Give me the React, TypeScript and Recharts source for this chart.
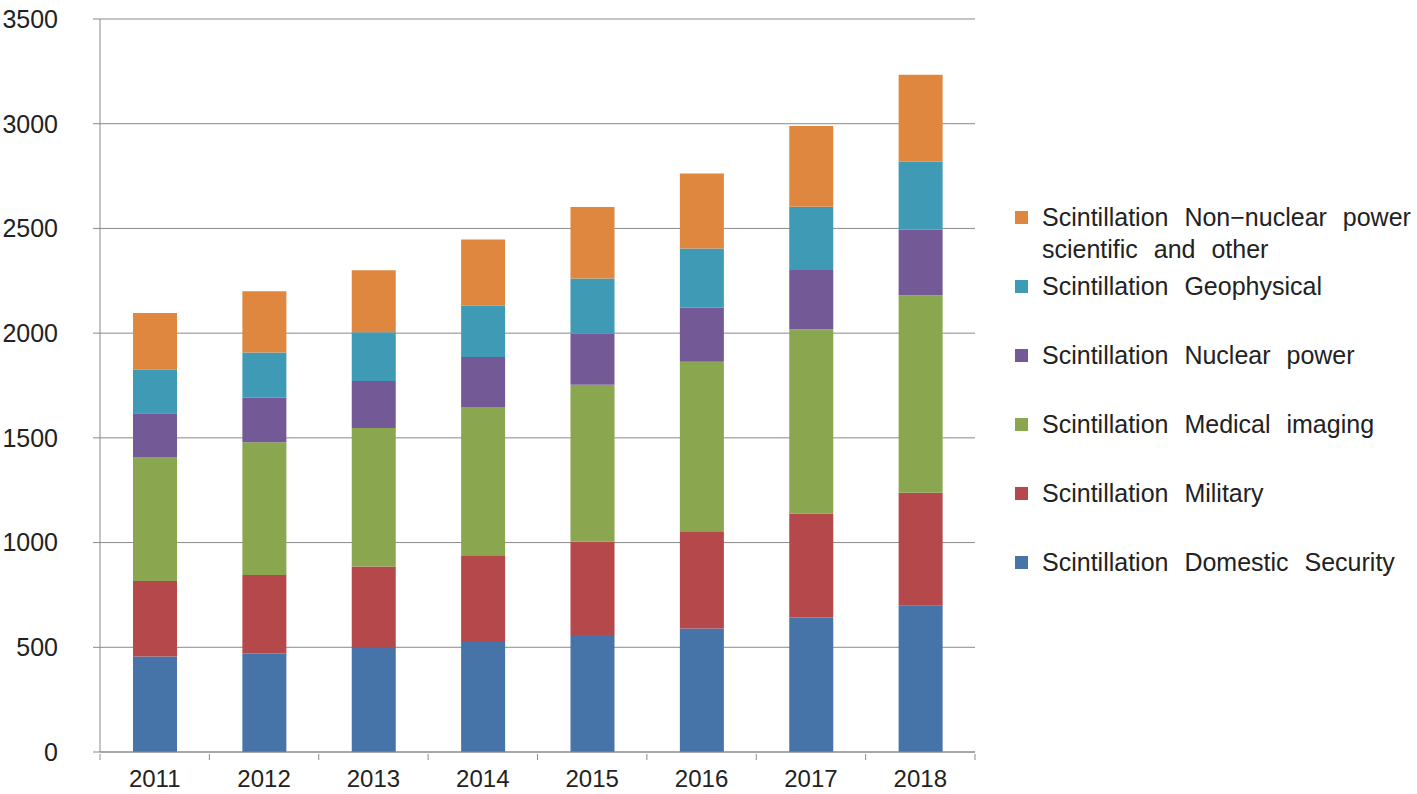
import React from "react";
import {
  Bar,
  BarChart,
  CartesianGrid,
  Legend,
  XAxis,
  YAxis,
} from "recharts";

const years = ["2011", "2012", "2013", "2014", "2015", "2016", "2017", "2018"];

const domesticSecurity = [456, 470, 496, 525, 559, 590, 642, 698];
const military = [360, 375, 390, 414, 445, 464, 496, 540];
const medicalImaging = [593, 634, 661, 708, 749, 810, 880, 943];
const nuclearPower = [208, 213, 224, 239, 245, 258, 284, 313];
const geophysical = [208, 215, 233, 245, 263, 282, 301, 325];
const nonNuclear = [271, 293, 296, 316, 341, 358, 386, 415];

const yTicks = [0, 500, 1000, 1500, 2000, 2500, 3000, 3500];

const seriesNames = [
  "Scintillation Domestic Security",
  "Scintillation Military",
  "Scintillation Medical imaging",
  "Scintillation Nuclear power",
  "Scintillation Geophysical",
  "Scintillation Non\u2212nuclear power scientific and other",
];
const seriesKeys = [
  "domestic",
  "military",
  "medical",
  "nuclear",
  "geophysical",
  "nonNuclear",
];
const seriesColors = [
  "#4673a8",
  "#b4484a",
  "#8aa74f",
  "#735a96",
  "#3f9ab5",
  "#df873e",
];

const data = years.map((year, i) => ({
  year,
  domestic: domesticSecurity[i],
  military: military[i],
  medical: medicalImaging[i],
  nuclear: nuclearPower[i],
  geophysical: geophysical[i],
  nonNuclear: nonNuclear[i],
}));

const W = 1417;
const H = 794;
const PLOT_LEFT = 100;
const PLOT_RIGHT = 975;
const PLOT_TOP = 19;
const PLOT_BOTTOM = 752;
const HALF_BAND = (PLOT_RIGHT - PLOT_LEFT) / years.length / 2;

const FONT = "'Liberation Sans', Arial, sans-serif";
const AXIS_GRAY = "#8a8a8a";

function YearTick(props: any) {
  const { x, y, payload, index } = props;
  const last = index === years.length - 1;
  return (
    <g>
      <line x1={x - HALF_BAND} x2={x - HALF_BAND} y1={y} y2={y + 6} stroke={AXIS_GRAY} />
      {last && (
        <line x1={x + HALF_BAND} x2={x + HALF_BAND} y1={y} y2={y + 6} stroke={AXIS_GRAY} />
      )}
      <text
        x={x}
        y={y + 16}
        dy="0.71em"
        textAnchor="middle"
        fill="#222"
        fontSize={24}
        fontFamily={FONT}
      >
        {payload.value}
      </text>
    </g>
  );
}

function SideLegend() {
  const order = [5, 4, 3, 2, 1, 0];
  return (
    <div style={{ fontFamily: FONT, fontSize: 25, color: "#222", wordSpacing: 9 }}>
      {order.map((s, i) => (
        <div
          key={seriesKeys[s]}
          style={{
            display: "flex",
            alignItems: "flex-start",
            marginTop: i === 0 ? 0 : i === 1 ? 5 : 37,
            lineHeight: "32px",
          }}
        >
          <span
            style={{
              display: "inline-block",
              width: 13,
              height: 13,
              marginTop: 10,
              marginRight: 14,
              background: seriesColors[s],
              flex: "none",
            }}
          />
          <span style={{ width: 380 }}>{seriesNames[s]}</span>
        </div>
      ))}
    </div>
  );
}

export default function App() {
  return (
    <div style={{ position: "absolute", left: 0, top: 0, width: W, height: H, background: "#fff" }}>
      <BarChart
        width={W}
        height={H}
        data={data}
        margin={{ top: PLOT_TOP, right: W - PLOT_RIGHT, bottom: 0, left: 0 }}
        accessibilityLayer={false}
      >
        <CartesianGrid vertical={false} stroke={AXIS_GRAY} strokeWidth={1} />
        <XAxis
          dataKey="year"
          height={H - PLOT_BOTTOM}
          interval={0}
          tickLine={false}
          tickSize={0}
          axisLine={{ stroke: AXIS_GRAY }}
          tick={<YearTick />}
        />
        <YAxis
          type="number"
          domain={[0, 3500]}
          ticks={yTicks}
          width={PLOT_LEFT}
          interval={0}
          tickSize={7}
          tickMargin={35}
          tickLine={{ stroke: AXIS_GRAY }}
          axisLine={{ stroke: AXIS_GRAY }}
          tick={{ fill: "#222", fontSize: 25, fontFamily: FONT }}
        />
        <Legend
          layout="vertical"
          align="center"
          verticalAlign="middle"
          wrapperStyle={{ left: 1015, top: 201, width: 402 }}
          content={() => <SideLegend />}
        />
        {seriesKeys.map((k, i) => (
          <Bar
            key={k}
            dataKey={k}
            name={seriesNames[i]}
            stackId="a"
            fill={seriesColors[i]}
            barSize={44}
            isAnimationActive={false}
          />
        ))}
      </BarChart>
    </div>
  );
}
